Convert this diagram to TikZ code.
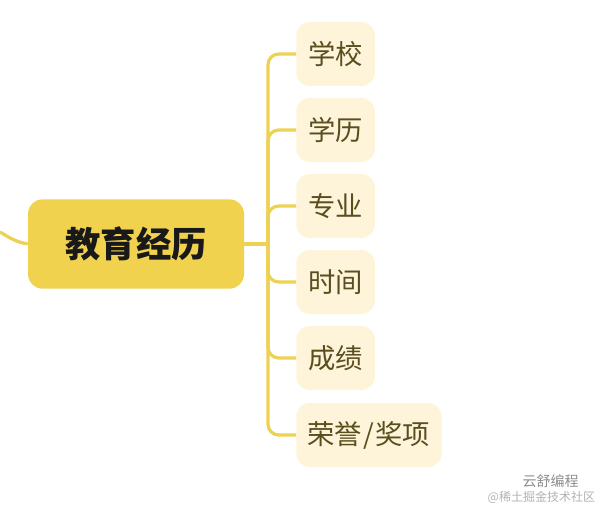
\documentclass[tikz,border=0pt]{standalone}
\usepackage{fontspec}
\newfontfamily\cjk{Noto Sans CJK SC}
\definecolor{mainfill}{HTML}{F0D24E}
\definecolor{linecol}{HTML}{EDD152}
\definecolor{subfill}{HTML}{FDF4DA}
\definecolor{subtext}{HTML}{5A4E1E}
\begin{document}
\begin{tikzpicture}[x=0.75pt,y=-0.75pt,
  mainbox/.style={fill=mainfill,rounded corners=11pt,minimum width=162pt,minimum height=67pt,inner sep=0pt,font=\cjk\bfseries\fontsize{26.5}{29}\selectfont,text=black!90},
  subbox/.style={fill=subfill,rounded corners=10pt,minimum height=48pt,minimum width=59pt,inner xsep=8.5pt,inner ysep=0pt,anchor=west,font=\cjk\fontsize{20.5}{23}\selectfont,text=subtext},
  conn/.style={draw=linecol,line width=2.4pt,rounded corners=8pt},
  wm/.style={font=\cjk\fontsize{10.5}{12}\selectfont,text=black!45}]
\useasboundingbox (0,0) rectangle (600,510);
\coordinate (lstart) at (0,232);
\node[mainbox] (main) at (136,244) {教育经历};
\coordinate (trunk) at (268,244);
\node[subbox] (s1) at (296,54) {学校};
\node[subbox] (s2) at (296,130) {学历};
\node[subbox] (s3) at (296,206) {专业};
\node[subbox] (s4) at (296,282) {时间};
\node[subbox] (s5) at (296,358) {成绩};
\node[subbox] (s6) at (296,435) {荣誉\kern1pt/\kern1pt奖项};
\draw[draw=linecol,line width=2.4pt] (lstart) .. controls (10,238) and (16,242) .. (main.west);
\draw[conn] (main.east) -- (trunk);
\foreach \s in {s1,s2,s3,s4,s5,s6}{
  \draw[conn] (trunk) |- (\s.west);
}
\node[wm,anchor=west] (wm1) at (518,481) {云舒编程};
\node[wm,anchor=west,text=black!30,font=\cjk\fontsize{9}{11}\selectfont] (wm2) at (483,497) {@稀土掘金技术社区};
\end{tikzpicture}
\end{document}
